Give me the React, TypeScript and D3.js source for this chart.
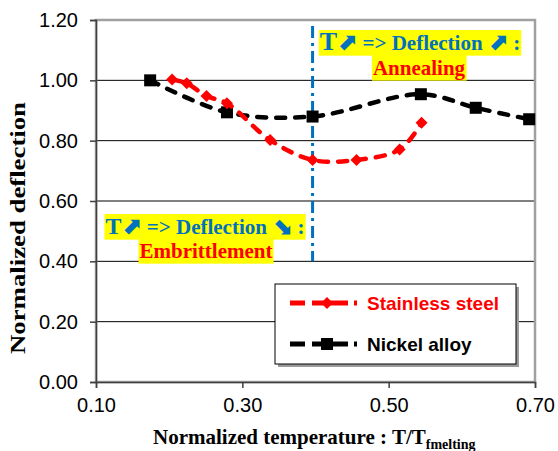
import React, { useEffect, useRef } from 'react';
import * as d3 from 'd3';

// stainless steel (red diamonds)
const steelTemp = [0.204, 0.224, 0.251, 0.279, 0.338, 0.396, 0.456, 0.515, 0.545];
const steelDefl = [1.003, 0.99, 0.948, 0.924, 0.802, 0.736, 0.736, 0.771, 0.859];
// nickel alloy (black squares)
const nickelTemp = [0.174, 0.279, 0.396, 0.544, 0.619, 0.692];
const nickelDefl = [1.0, 0.894, 0.88, 0.954, 0.909, 0.871];

const xTicks = [0.1, 0.3, 0.5, 0.7];
const yTicks = [0, 0.2, 0.4, 0.6, 0.8, 1.0, 1.2];
const boundaryTemp = 0.396;
const boundaryTo = 0.4;

const serif = '"Liberation Serif", "Times New Roman", serif';
const sans = '"Liberation Sans", Arial, sans-serif';
const blue = '#0070C0';

export default function App() {
  const ref = useRef<SVGSVGElement>(null);

  useEffect(() => {
    const svg = d3.select(ref.current);
    svg.selectAll('*').remove();

    const x = d3.scaleLinear().domain([0.1, 0.7]).range([96, 535]);
    const y = d3.scaleLinear().domain([0, 1.2]).range([382, 20]);

    // grid
    svg.append('g')
      .selectAll('line')
      .data(yTicks.filter(d => d > 0 && d < 1.2))
      .join('line')
      .attr('x1', x(0.1)).attr('x2', x(0.7))
      .attr('y1', d => y(d)).attr('y2', d => y(d))
      .attr('stroke', '#000').attr('stroke-width', 1);

    // plot frame
    svg.append('rect')
      .attr('x', x(0.1)).attr('y', y(1.2))
      .attr('width', x(0.7) - x(0.1)).attr('height', y(0) - y(1.2))
      .attr('fill', 'none').attr('stroke', '#a0a0a0').attr('stroke-width', 2.5);

    // axes
    const yAxis = svg.append('g').attr('transform', `translate(${x(0.1)},0)`)
      .call(d3.axisLeft(y).tickValues(yTicks).tickSize(6).tickFormat(d3.format('.2f')));
    const xAxis = svg.append('g').attr('transform', `translate(0,${y(0)})`)
      .call(d3.axisBottom(x).tickValues(xTicks).tickSize(6).tickFormat(d3.format('.2f')));
    [yAxis, xAxis].forEach(a => {
      a.selectAll('path, line').attr('stroke', '#404040').attr('stroke-width', 1.5);
      a.selectAll('text').attr('font-family', sans).attr('font-size', 20).attr('fill', '#000');
    });
    yAxis.selectAll('text').attr('x', -18);
    xAxis.selectAll('text').attr('y', 16);

    // boundary line
    svg.append('line')
      .attr('x1', x(boundaryTemp)).attr('x2', x(boundaryTemp))
      .attr('y1', y(1.18)).attr('y2', y(boundaryTo))
      .attr('stroke', blue).attr('stroke-width', 3)
      .attr('stroke-dasharray', '12,5,3,5');

    const line = d3.line<[number, number]>()
      .x(d => x(d[0])).y(d => y(d[1]))
      .curve(d3.curveCatmullRom.alpha(0.5));

    const steel = steelTemp.map((t, i) => [t, steelDefl[i]] as [number, number]);
    const nickel = nickelTemp.map((t, i) => [t, nickelDefl[i]] as [number, number]);

    const series = [
      { pts: nickel, color: '#000', marker: 'square' },
      { pts: steel, color: '#ff0000', marker: 'diamond' },
    ];

    series.forEach(s => {
      svg.append('path')
        .attr('d', line(s.pts))
        .attr('fill', 'none').attr('stroke', s.color)
        .attr('stroke-width', 4.5).attr('stroke-linecap', 'round')
        .attr('stroke-dasharray', '9,10');
      svg.append('g')
        .selectAll('path')
        .data(s.pts)
        .join('path')
        .attr('transform', d => `translate(${x(d[0])},${y(d[1])})`)
        .attr('d', s.marker === 'square' ? 'M-6,-6H6V6H-6Z' : 'M0,-6L6,0L0,6L-6,0Z')
        .attr('fill', s.color);
    });

    // annotations with yellow highlight
    const note = (cx: number, base: number, parts: { t: string; size: number; font?: string }[], color: string, size: number) => {
      const g = svg.append('g');
      const bg = g.append('rect').attr('fill', '#ffff00');
      const txt = g.append('text')
        .attr('x', cx).attr('y', base).attr('text-anchor', 'middle')
        .attr('font-family', serif).attr('font-weight', 'bold')
        .attr('font-size', size).attr('fill', color);
      parts.forEach(p => {
        txt.append('tspan').attr('font-size', p.size)
          .attr('font-family', p.font || serif).text(p.t);
      });
      const bb = (txt.node() as SVGTextElement).getBBox();
      bg.attr('x', bb.x - 1).attr('y', base - size * 0.95)
        .attr('width', bb.width + 2).attr('height', size * 1.22);
    };

    const arrowFont = '"DejaVu Sans", sans-serif';
    note(420, 50, [
      { t: 'T', size: 26 },
      { t: '⬈', size: 24, font: arrowFont },
      { t: ' => Deflection ', size: 21 },
      { t: '⬈', size: 24, font: arrowFont },
      { t: ' :', size: 21 },
    ], blue, 21);
    note(419, 75, [{ t: 'Annealing', size: 21 }], '#ff0000', 21);

    note(205, 234, [
      { t: 'T', size: 24 },
      { t: '⬈', size: 24, font: arrowFont },
      { t: ' => Deflection ', size: 21 },
      { t: '⬊', size: 24, font: arrowFont },
      { t: ' :', size: 21 },
    ], blue, 21);
    note(206, 258, [{ t: 'Embrittlement', size: 21 }], '#ff0000', 21);

    // legend
    const lg = svg.append('g');
    lg.append('rect').attr('x', 278).attr('y', 287).attr('width', 241).attr('height', 80).attr('fill', '#9a9a9a');
    lg.append('rect').attr('x', 275).attr('y', 284).attr('width', 241).attr('height', 80)
      .attr('fill', '#fff').attr('stroke', '#000').attr('stroke-width', 1);
    const items = [
      { name: 'Stainless steel', color: '#ff0000', marker: 'diamond', yy: 303 },
      { name: 'Nickel alloy', color: '#000', marker: 'square', yy: 344 },
    ];
    items.forEach(it => {
      lg.append('line').attr('x1', 290).attr('x2', 361).attr('y1', it.yy).attr('y2', it.yy)
        .attr('stroke', it.color).attr('stroke-width', 5)
        .attr('stroke-dasharray', '15,7,36,6,3,100');
      lg.append('path')
        .attr('transform', `translate(327,${it.yy})`)
        .attr('d', it.marker === 'square' ? 'M-6,-6H6V6H-6Z' : 'M0,-6L6,0L0,6L-6,0Z')
        .attr('fill', it.color);
      lg.append('text').attr('x', 367).attr('y', it.yy + 7)
        .attr('font-family', sans).attr('font-weight', 'bold').attr('font-size', 19)
        .attr('fill', it.color).text(it.name);
    });

    // axis titles
    svg.append('text')
      .attr('transform', 'translate(25,228) rotate(-90)')
      .attr('text-anchor', 'middle')
      .attr('font-family', serif).attr('font-weight', 'bold').attr('font-size', 20)
      .attr('textLength', 252).attr('lengthAdjust', 'spacingAndGlyphs')
      .text('Normalized deflection');

    const xt = svg.append('text')
      .attr('x', 153).attr('y', 444)
      .attr('font-family', serif).attr('font-weight', 'bold').attr('font-size', 21);
    xt.append('tspan').text('Normalized temperature : T/T');
    xt.append('tspan').attr('font-size', 14).attr('dy', 5).text('fmelting');
  }, []);

  return (
    <svg ref={ref} width={558} height={451}
      style={{ position: 'absolute', left: 0, top: 0, background: '#fff' }} />
  );
}
